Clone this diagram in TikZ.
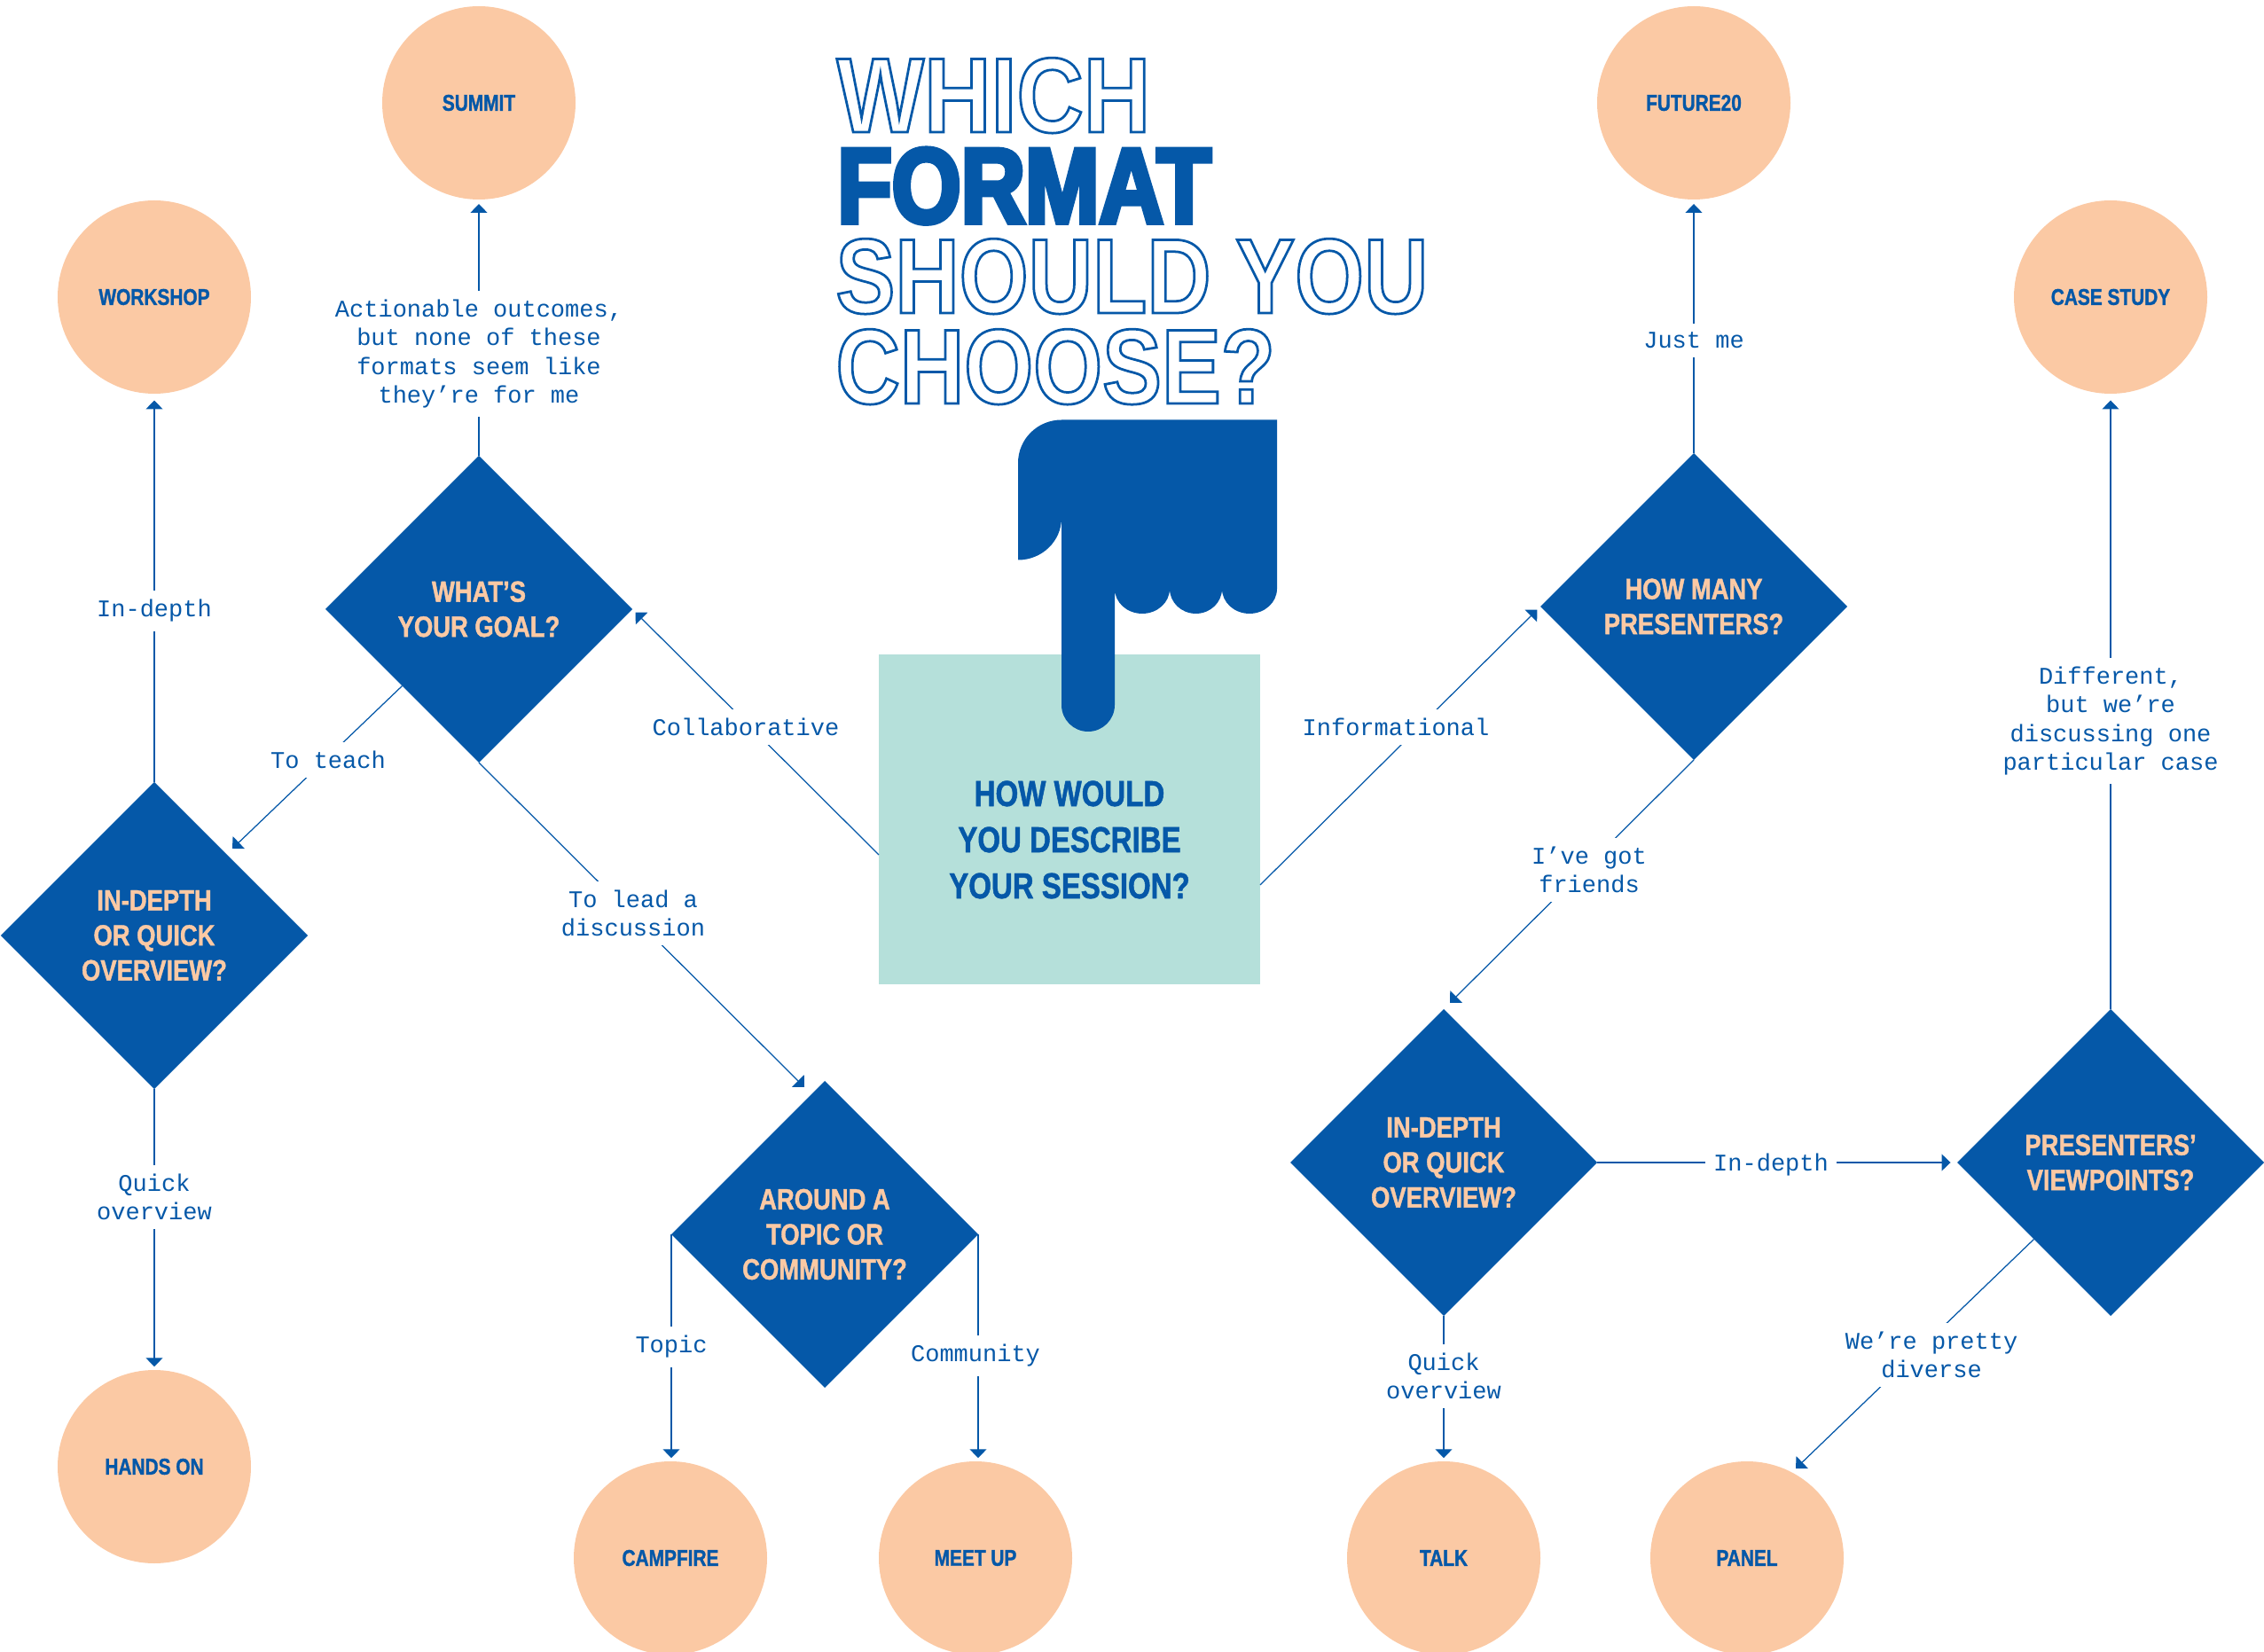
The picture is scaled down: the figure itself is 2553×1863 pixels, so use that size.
\documentclass[tikz,border=0pt]{standalone}
\usepackage{fontspec}
\usepackage{amsmath}
\usetikzlibrary{arrows.meta,shapes.geometric}
\setmainfont{Liberation Sans}
\newfontfamily\headfont[FakeStretch=0.81,FakeBold=1.2]{Liberation Sans Bold}
\newfontfamily\askfont[FakeStretch=0.83,FakeBold=1.2]{Liberation Sans Bold}
\newfontfamily\titlefont[FakeStretch=0.835]{Liberation Sans Bold}
\newfontfamily\whichfont[FakeStretch=0.87]{Liberation Sans Bold}
\newfontfamily\lblfont{Liberation Mono}
\definecolor{hblue}{HTML}{0558A8}
\definecolor{peach}{HTML}{FBC9A4}
\definecolor{mint}{HTML}{B5E0DA}
\newcommand{\hollowtxt}[1]{\special{pdf:code q 1 Tr 1.1 w 0.02 0.345 0.66 RG}#1\special{pdf:code Q}}
\newcommand{\heavytxt}[1]{\special{pdf:code q 2 Tr 2.2 w 0.02 0.345 0.66 RG}#1\special{pdf:code Q}}
\tikzset{
  ask/.style={shape=diamond,aspect=1,fill=hblue,text=peach,minimum size=138.4pt,inner sep=0pt,outer sep=0pt,align=center,font=\askfont\fontsize{13.2}{15.8}\selectfont},
  fmt/.style={shape=circle,fill=peach,text=hblue,minimum size=87.2pt,inner sep=0pt,outer sep=0pt,align=center,font=\headfont\fontsize{10.3}{12}\selectfont},
  lbl/.style={fill=white,text=hblue,inner xsep=3.5pt,inner ysep=4pt,align=center,font=\lblfont\fontsize{10.8}{12.85}\selectfont},
  ttl/.style={anchor=base west,inner sep=0pt,text=hblue,font=\titlefont\fontsize{48}{48}\selectfont},
  link/.style={draw=hblue,line width=0.5pt}
}

\begin{document}
\begin{tikzpicture}[x=0.4pt,y=-0.4pt,>/.tip={Triangle[width=7.6pt,length=4pt]}]
\useasboundingbox (0,0) rectangle (2553,1863);

% title
\node (ttlwhich)  [ttl] at (943,149)  {\whichfont\hollowtxt{WHICH}};
\node (ttlformat) [ttl] at (944,251)  {\heavytxt{FORMAT}};
\node (ttlshould) [ttl] at (942,353)  {\hollowtxt{SHOULD YOU}};
\node (ttlchoose) [ttl] at (942,455)  {\hollowtxt{CHOOSE?}};

% session box
\node (session) [fill=mint,minimum width=172pt,minimum height=148.8pt,inner sep=0pt,outer sep=0pt] at (1206,924) {};
\node (sessiontxt) [text=hblue,align=center,inner sep=0pt,font=\headfont\fontsize{16.3}{20.8}\selectfont] at (1206,947) {HOW WOULD\\YOU DESCRIBE\\YOUR SESSION?};

% hand
\fill[hblue] (1197,473.5) -- (1440,473.5) -- (1440,664)
  arc[start angle=0,end angle=180,x radius=31,y radius=28]
  arc[start angle=0,end angle=180,x radius=29.5,y radius=28]
  arc[start angle=0,end angle=180,x radius=31,y radius=28]
  -- (1257,795) arc[start angle=0,end angle=180,x radius=30,y radius=30]
  -- (1197,584) arc[start angle=0,end angle=90,x radius=49,y radius=47.5]
  -- (1148,522) arc[start angle=180,end angle=270,x radius=49,y radius=48.5] -- cycle;

% questions
\draw (540,687)   node (goal)     [ask] {WHAT’S\\YOUR GOAL?};
\draw (174,1055)  node (depthl)   [ask] {IN-DEPTH\\OR QUICK\\OVERVIEW?};
\draw (930,1392)  node (topic)    [ask] {AROUND A\\TOPIC OR\\COMMUNITY?};
\draw (1910,684)  node (howmany)  [ask] {HOW MANY\\PRESENTERS?};
\draw (1628,1311) node (depthr)   [ask] {IN-DEPTH\\OR QUICK\\OVERVIEW?};
\draw (2380,1311) node (views)    [ask] {PRESENTERS’\\VIEWPOINTS?};

% formats
\draw (540,116)   node (summit)   [fmt] {SUMMIT};
\draw (174,335)   node (workshop) [fmt] {WORKSHOP};
\draw (174,1654)  node (handson)  [fmt] {HANDS ON};
\draw (756,1757)  node (campfire) [fmt] {CAMPFIRE};
\draw (1100,1757) node (meetup)   [fmt] {MEET UP};
\draw (1628,1757) node (talk)     [fmt] {TALK};
\draw (1970,1757) node (panel)    [fmt] {PANEL};
\draw (1910,116)  node (future)   [fmt] {FUTURE20};
\draw (2380,335)  node (casest)   [fmt] {CASE STUDY};

% free ends
\coordinate (sessl) at (991,964);
\coordinate (sessr) at (1421,998);
\coordinate (tiptopic) at (907,1226);
\coordinate (tipdepthr) at (1635,1131);
\coordinate (tipdepthl) at (262,957);
\coordinate (tippanel) at (2025,1656);

% connectors
\draw[link,->,shorten >=2pt] (sessl) -- (goal.east);
\draw[link,->,shorten >=2pt] (sessr) -- (howmany.west);
\draw[link,->,shorten >=2pt] (goal.north) -- (summit.south);
\draw[link,->] (goal.south west) -- (tipdepthl);
\draw[link,->] (goal.south) -- (tiptopic);
\draw[link,->,shorten >=3pt] (depthl.north) -- (workshop.south);
\draw[link,->,shorten >=1.5pt] (depthl.south) -- (handson.north);
\draw[link,->,shorten >=1.5pt] (topic.west) -- (topic.west |- campfire.north);
\draw[link,->,shorten >=1.5pt] (topic.east) -- (topic.east |- meetup.north);
\draw[link,->,shorten >=2pt] (howmany.north) -- (future.south);
\draw[link,->] (howmany.south) -- (tipdepthr);
\draw[link,->,shorten >=3pt] (depthr.east) -- (views.west);
\draw[link,->,shorten >=1.5pt] (depthr.south) -- (talk.north);
\draw[link,->] (views.south west) -- (tippanel);
\draw[link,->,shorten >=3pt] (views.north) -- (casest.south);

% labels
\node (lblcollab) [lbl] at (841,820)   {Collaborative};
\node (lblinfo)   [lbl] at (1574,820)  {Informational};
\node (lblteach)  [lbl] at (370,857)   {To teach};
\node (lbllead)   [lbl] at (714,1030)  {To lead a\\discussion};
\node (lblaction) [lbl] at (540,399)   {Actionable outcomes,\\but none of these\\formats seem like\\they’re for me};
\node (lbldepl)   [lbl] at (174,689)   {In-depth};
\node (lblquickl) [lbl] at (174,1350)  {Quick\\overview};
\node (lbltopic)  [lbl] at (757,1519)  {Topic};
\node (lblcomm)   [lbl] at (1100,1529) {Community};
\node (lbljust)   [lbl] at (1910,384)  {Just me};
\node (lblfriend) [lbl] at (1792,981)  {I’ve got\\friends};
\node (lbldepr)   [lbl] at (1997,1314) {In-depth};
\node (lblquickr) [lbl] at (1628,1552) {Quick\\overview};
\node (lbldiv)    [lbl] at (2178,1528) {We’re pretty\\diverse};
\node (lbldiff)   [lbl] at (2380,813)  {Different,\\but we’re\\discussing one\\particular case};

\end{tikzpicture}
\end{document}
